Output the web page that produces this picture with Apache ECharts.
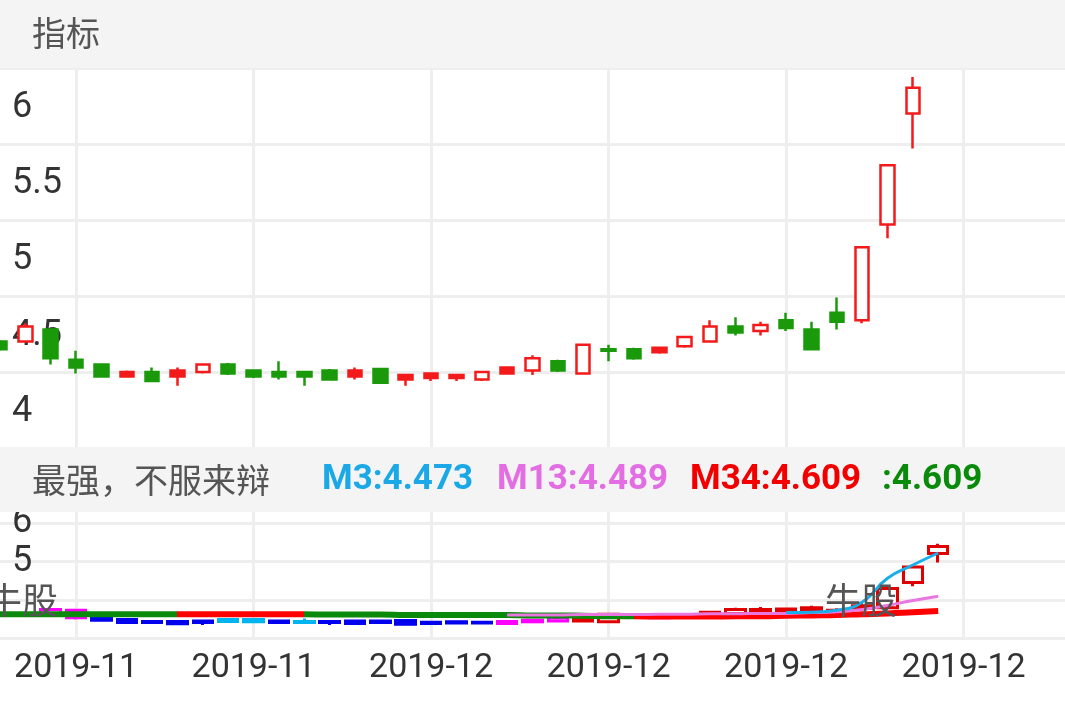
<!DOCTYPE html>
<html><head><meta charset="utf-8">
<script src="https://cdn.jsdelivr.net/npm/echarts@6/dist/echarts.min.js"></script>
<style>html,body{margin:0;padding:0;background:#fff}#c{width:1065px;height:708px}</style>
</head><body><div id="c"></div>
<script>
const tickLabels = ['2019-11','2019-11','2019-12','2019-12','2019-12','2019-12'];
const kinds = ['D','U','D','D','D','F','D','F','U','D','D','D','D','D','F','D','F','F','F','U','F','U','D','U','D','D','F','U','U','D','U','D','D','D','U','U','U'];
const opens  = [4.70,4.70,4.78,4.58,4.55,4.50,4.50,4.51,4.50,4.55,4.51,4.50,4.50,4.51,4.51,4.52,4.48,4.49,4.48,4.45,4.53,4.51,4.57,4.49,4.65,4.65,4.66,4.67,4.70,4.80,4.77,4.84,4.78,4.89,4.84,5.47,6.20];
const closes = [4.65,4.80,4.59,4.53,4.47,4.47,4.44,4.47,4.55,4.49,4.47,4.47,4.47,4.45,4.47,4.43,4.45,4.46,4.46,4.50,4.49,4.59,4.51,4.68,4.64,4.59,4.63,4.73,4.80,4.76,4.81,4.79,4.65,4.83,5.32,5.86,6.37];
const lows   = [4.64,4.70,4.55,4.49,4.47,4.47,4.44,4.41,4.49,4.48,4.46,4.45,4.41,4.45,4.45,4.43,4.41,4.44,4.44,4.44,4.49,4.48,4.50,4.49,4.57,4.58,4.62,4.66,4.70,4.74,4.74,4.77,4.65,4.78,4.82,5.38,5.97];
const highs  = [4.71,4.82,4.78,4.64,4.55,4.51,4.53,4.53,4.55,4.56,4.51,4.57,4.50,4.52,4.53,4.52,4.48,4.49,4.48,4.50,4.53,4.61,4.58,4.68,4.68,4.66,4.66,4.73,4.84,4.86,4.83,4.89,4.83,4.99,5.32,5.86,6.44];
const lowerColors = ['#0000ee','#ff00ff','#ff00ff','#0000ee','#0000ee','#0000ee','#0000ee','#0000ee','#00b4f0','#00b4f0','#0000ee','#00b4f0','#0000ee','#0000ee','#0000ee','#0000ee','#0000ee','#0000ee','#0000ee','#ff00ff','#ff00ff','#ff00ff','#e00000','#e00000','#ff00ff','#ff00ff','#e00000','#e00000','#e00000','#e00000','#e00000','#e00000','#e00000','#e00000','#e00000','#e00000','#e00000'];
const trendLine = [4.68,4.68,4.68,4.68,4.68,4.68,4.68,4.68,4.68,4.68,4.68,4.68,4.68,4.67,4.67,4.67,4.66,4.66,4.66,4.66,4.66,4.65,4.65,4.64,4.63,4.63,4.62,4.62,4.62,4.63,4.63,4.64,4.65,4.66,4.68,4.70,4.73,4.76];
const m13Line = ['-','-','-','-','-','-','-','-','-','-','-','-','-','-','-','-','-','-','-','-',4.66,4.66,4.66,4.67,4.67,4.67,4.68,4.68,4.69,4.69,4.70,4.70,4.72,4.74,4.80,4.90,5.02,5.13];
const m3Line = ['-','-','-','-','-','-','-','-','-','-','-','-','-','-','-','-','-','-','-','-','-','-','-','-','-','-','-','-','-','-','-',4.72,4.73,4.78,4.98,5.58,5.91,6.21];
const legendItems = [['M3:4.473','#1aa9e6',322],['M13:4.489','#e36de3',497],['M34:4.609','#f20000',690],[':4.609','#0a8a0a',882]];

const N = 43;
const categories = [];
for (let i = 0; i < N; i++) categories.push(i % 7 === 3 ? tickLabels[(i - 3) / 7] : '');
const isTick = (i) => i % 7 === 3;
const RED = '#f21a1a', GREEN = '#1a9a0a';

const upperData = opens.map((o, i) => {
  const d = {value: [o, closes[i], lows[i], highs[i]]};
  if (kinds[i] === 'F') d.itemStyle = {color0: RED, borderColor0: RED};
  return d;
});
const lowerData = ['-'].concat(opens.map((o, i) => {
  const c = lowerColors[i];
  const hollow = kinds[i] === 'U';
  return {value: [o, closes[i], lows[i], highs[i]],
    itemStyle: {color: hollow ? '#fff' : c, color0: c, borderColor: c, borderColor0: c}};
}));

const chart = echarts.init(document.getElementById('c'));
const xCommon = (gi, showLabel) => ({
  type: 'category', gridIndex: gi, data: categories, boundaryGap: false,
  axisLine: {show: false}, axisTick: {show: false},
  axisLabel: {show: showLabel, interval: (i) => isTick(i), color: '#333', fontSize: 34, margin: 13, fontFamily: 'Roboto'},
  splitLine: {show: true, interval: (i) => isTick(i), lineStyle: {color: '#eeeeee', width: 3}}
});
chart.setOption({
  animation: false,
  grid: [
    {left: 0, right: 0, top: 68, height: 380},
    {left: 0, right: 0, top: 508, height: 130},
    {left: 0, right: 0, top: 508, height: 130}
  ],
  xAxis: [xCommon(0, false), xCommon(1, true), Object.assign(xCommon(2, false), {splitLine: {show: false}})],
  yAxis: [
    {gridIndex: 0, min: 4, max: 6.5, interval: 0.5,
     axisLine: {show: false}, axisTick: {show: false},
     splitLine: {lineStyle: {color: '#eeeeee', width: 3}},
     axisLabel: {inside: true, margin: 12, color: '#333', fontSize: 36, fontFamily: 'Roboto',
       verticalAlign: 'bottom', padding: [0, 0, 18, 0],
       formatter: (v) => (v > 6.01 ? '' : String(+v.toFixed(1)))}},
    {gridIndex: 1, min: 3, max: 6.4, interval: 1,
     axisLine: {show: false}, axisTick: {show: false},
     splitLine: {lineStyle: {color: '#eeeeee', width: 3}},
     axisLabel: {inside: true, margin: 12, color: '#333', fontSize: 36, fontFamily: 'Roboto',
       verticalAlign: 'middle', padding: [26, 0, 0, 0],
       formatter: (v) => (v === 5 || v === 6 ? String(v) : '')}},
    {gridIndex: 2, min: 4.085, max: 7.335, show: false, splitLine: {show: false}}
  ],
  visualMap: {show: false, type: 'piecewise', seriesIndex: 1, dimension: 0,
    pieces: [{lt: 7, color: '#0a8a0a'}, {gte: 7, lt: 12, color: '#ff0000'}, {gte: 12, lt: 25, color: '#0a8a0a'}, {gte: 25, color: '#ff0000'}]},
  series: [
    {type: 'candlestick', xAxisIndex: 0, yAxisIndex: 0, data: upperData, barWidth: 14,
     itemStyle: {color: '#fff', color0: GREEN, borderColor: RED, borderColor0: GREEN, borderWidth: 2.5}},
    {type: 'line', xAxisIndex: 2, yAxisIndex: 2, data: trendLine, symbol: 'none', smooth: true,
     lineStyle: {width: 6}},
    {type: 'line', xAxisIndex: 2, yAxisIndex: 2, data: m13Line, symbol: 'none', smooth: true,
     lineStyle: {width: 3, color: '#e878e0'}},
    {type: 'line', xAxisIndex: 2, yAxisIndex: 2, data: m3Line, symbol: 'none', smooth: true,
     lineStyle: {width: 3, color: '#1aaee8'}},
    {type: 'candlestick', xAxisIndex: 2, yAxisIndex: 2, data: lowerData, barWidth: 20,
     itemStyle: {borderWidth: 3}}
  ],
  graphic: [
    {type: 'rect', z: 100, shape: {x: 0, y: 0, width: 1065, height: 68}, style: {fill: '#f4f4f4'}},
    {type: 'text', z: 101, x: 32, y: 33, style: {text: '指标', fill: '#555', font: '34px "Noto Sans CJK SC"', verticalAlign: 'middle'}},
    {type: 'rect', z: 100, shape: {x: 0, y: 447, width: 1065, height: 65}, style: {fill: '#f4f4f4'}},
    {type: 'text', z: 101, x: 32, y: 480, style: {text: '最强，不服来辩', fill: '#555', font: '34px "Noto Sans CJK SC"', verticalAlign: 'middle'}},
    ...legendItems.map(([t, c, x]) => ({type: 'text', z: 101, x: x, y: 480,
      style: {text: t, fill: c, font: 'bold 35px Roboto', verticalAlign: 'middle'}})),
    {type: 'text', z: 90, x: -14, y: 600, style: {text: '牛股', fill: '#555', font: '36px "Noto Sans CJK SC"', verticalAlign: 'middle'}},
    {type: 'text', z: 90, x: 825, y: 600, style: {text: '牛股', fill: '#555', font: '36px "Noto Sans CJK SC"', verticalAlign: 'middle'}}
  ]
});
</script></body></html>
